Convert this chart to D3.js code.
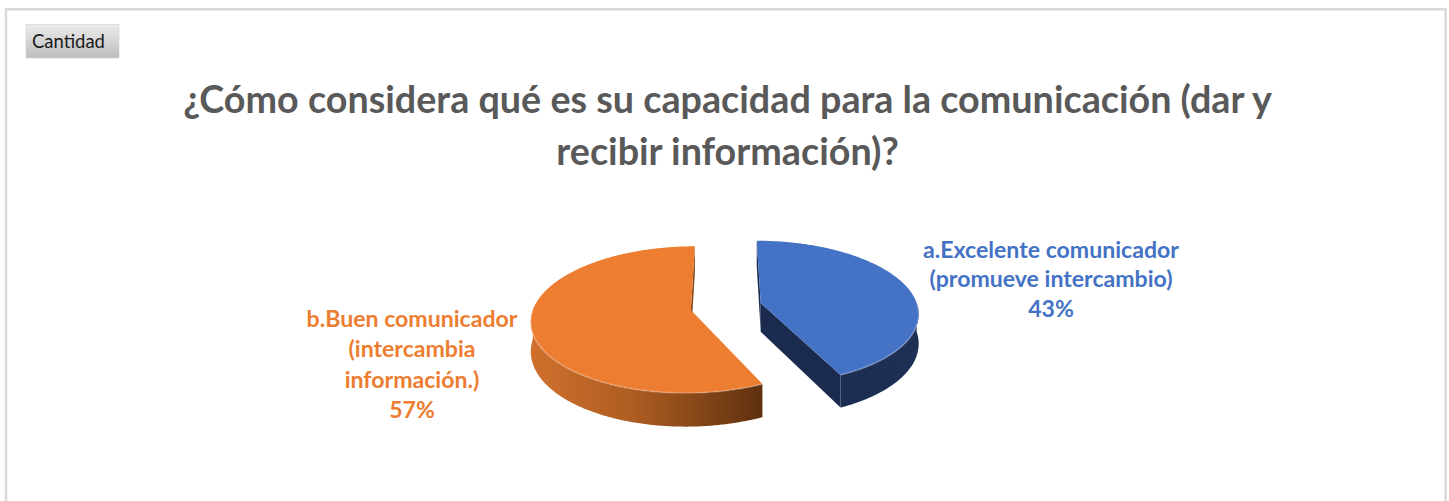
<!DOCTYPE html>
<html>
<head>
<meta charset="utf-8">
<script src="https://cdn.jsdelivr.net/npm/d3@7"></script>
<style>
  html, body { margin: 0; padding: 0; background: #fff; }
  svg { display: block; }
</style>
</head>
<body>
<svg id="chart" width="1449" height="501"></svg>
<script>
// ---- data ----
const titleLines = ["¿Cómo considera qué es su capacidad para la comunicación (dar y", "recibir información)?"];
const categories = ["a.Excelente comunicador (promueve intercambio)", "b.Buen comunicador (intercambia información.)"];
const values = [43, 57];
const labelLines = [["a.Excelente comunicador", "(promueve intercambio)"], ["b.Buen comunicador", "(intercambia", "información."+")"]];
const fieldButton = "Cantidad";

// ---- styles ----
const topColors = ["#4472C4", "#ED7D31"];
const labelColors = ["#4472C4", "#ED7D31"];
const FONT = "Lato, 'Open Sans', 'DejaVu Sans', sans-serif";

const svg = d3.select("#chart");
const defs = svg.append("defs");

// outer frame
svg.append("path")
  .attr("d", "M6,520 L6,9.2 L1445.6,9.2 L1445.6,520")
  .attr("fill", "none").attr("stroke", "#d9d9d9").attr("stroke-width", 2.4);

// field button
const bg = defs.append("linearGradient").attr("id", "btn").attr("x1", 0).attr("y1", 0).attr("x2", 0).attr("y2", 1);
bg.append("stop").attr("offset", 0).attr("stop-color", "#ececec");
bg.append("stop").attr("offset", 1).attr("stop-color", "#bdbdbd");
svg.append("rect").attr("x", 26).attr("y", 24.5).attr("width", 93).attr("height", 33.5)
  .attr("fill", "url(#btn)").attr("stroke", "#d0d0d0").attr("stroke-width", 0.6);
const btnText = svg.append("text").attr("x", 32).attr("y", 48)
  .attr("font-family", FONT).attr("font-size", 16).attr("fill", "#1a1a1a").text(fieldButton);

function fitWidth(sel, target) {
  const w = sel.node().getComputedTextLength();
  const fs = parseFloat(sel.attr("font-size"));
  return fs * target / w;
}
btnText.attr("font-size", fitWidth(btnText, 73));

// title
const title = svg.append("g");
const tl = title.selectAll("text").data(titleLines).join("text")
  .attr("x", 727.5).attr("y", (d, i) => 113 + i * 52)
  .attr("text-anchor", "middle").attr("font-family", FONT).attr("font-weight", 700)
  .attr("font-size", 30).attr("fill", "#595959").text(d => d);
const tfs = fitWidth(d3.select(tl.nodes()[0]), 1089);
tl.attr("font-size", tfs);

// ---- pie (3D, exploded) ----
const pie = d3.pie().sort(null).value(d => d)(values);
const cx = 726, cy = 306.5, RX = 157, RY = 71.2, DEPTH = 29, PERSP = 0.13, EXPLODE = 0.228;

function proj(theta, r, h, mid) {
  const nx = r * Math.sin(theta) + EXPLODE * Math.sin(mid);
  const nz = -(r * Math.cos(theta) + EXPLODE * Math.cos(mid));
  const s = 1 / (1 - PERSP * nz);
  return [cx + nx * RX * s, cy + (nz * RY + h) * s];
}
const line = d3.line().curve(d3.curveLinearClosed);
function arcPts(a0, a1, h, mid) {
  const n = Math.max(2, Math.ceil(Math.abs(a1 - a0) / 0.01));
  const pts = [];
  for (let i = 0; i <= n; i++) pts.push(proj(a0 + (a1 - a0) * i / n, 1, h, mid));
  return pts;
}
function cross(a, b) { return a[0] * b[1] - a[1] * b[0]; }

// gradients for sides
const og = defs.append("linearGradient").attr("id", "sideOrange").attr("gradientUnits", "userSpaceOnUse")
  .attr("x1", 530).attr("y1", 0).attr("x2", 762).attr("y2", 0);
[[0, "#d0712d"], [0.45, "#ad5c22"], [1, "#5f310f"]].forEach(s => og.append("stop").attr("offset", s[0]).attr("stop-color", s[1]));
const bgd = defs.append("linearGradient").attr("id", "sideBlue").attr("gradientUnits", "userSpaceOnUse")
  .attr("x1", 760).attr("y1", 0).attr("x2", 920).attr("y2", 0);
[[0, "#1a2a4c"], [1, "#1e3056"]].forEach(s => bgd.append("stop").attr("offset", s[0]).attr("stop-color", s[1]));
const sideFill = ["url(#sideBlue)", "url(#sideOrange)"];
const faceFill = ["#1b2b4f", "#8a4a1a"];

const pieG = svg.append("g");
pie.forEach((p, i) => {
  const a0 = p.startAngle, a1 = p.endAngle, mid = (a0 + a1) / 2;
  const g = pieG.append("g");
  const C = proj(0, 0, 0, mid), Cb = proj(0, 0, DEPTH, mid);
  // radial faces
  [[a0, a0 + 0.05], [a1, a1 - 0.05]].forEach(([a, ain]) => {
    const P = proj(a, 1, 0, mid), Pb = proj(a, 1, DEPTH, mid);
    const I = proj(ain, 0.5, 0, mid);
    const e = [P[0] - C[0], P[1] - C[1]];
    const ci = cross(e, [I[0] - C[0], I[1] - C[1]]);
    const cd = cross(e, [0, 1]);
    if (Math.sign(ci) !== Math.sign(cd)) {
      g.append("path").attr("d", line([C, P, Pb, Cb])).attr("fill", faceFill[i]);
    }
  });
  // curved side (front half)
  const s0 = Math.max(a0, Math.PI / 2), s1 = Math.min(a1, 3 * Math.PI / 2);
  if (s1 > s0) {
    const top = arcPts(s0, s1, 0, mid);
    const bot = arcPts(s1, s0, DEPTH, mid);
    g.append("path").attr("d", line(top.concat(bot))).attr("fill", sideFill[i]);
  }
  // top face
  const pts = [C].concat(arcPts(a0, a1, 0, mid));
  g.append("path").attr("d", line(pts)).attr("fill", topColors[i]);
  // subtle bevel highlight on front rim
  if (s1 > s0) {
    g.append("path").attr("d", d3.line()(arcPts(s0, s1, 0, mid)))
      .attr("fill", "none").attr("stroke", "#ffffff").attr("stroke-opacity", 0.18).attr("stroke-width", 2);
  }
});

// ---- data labels ----
const total = d3.sum(values);
const pct = d3.format(".0%");
const labelPos = [{x: 1051, y: 257.5, step: 29.8}, {x: 412, y: 327, step: 30.4}];
const fitRef = [256, 212];
const lg = svg.append("g");
let lfs = null;
pie.forEach((p, i) => {
  const lines = labelLines[i].concat([pct(values[i] / total)]);
  const t = lg.selectAll(null).data(lines).join("text")
    .attr("x", labelPos[i].x).attr("y", (d, k) => labelPos[i].y + k * labelPos[i].step)
    .attr("text-anchor", "middle").attr("font-family", FONT).attr("font-weight", 700)
    .attr("font-size", 20).attr("fill", labelColors[i]).text(d => d);
  if (lfs === null) lfs = fitWidth(d3.select(t.nodes()[0]), fitRef[i]);
  t.attr("font-size", lfs);
});
</script>
</body>
</html>
